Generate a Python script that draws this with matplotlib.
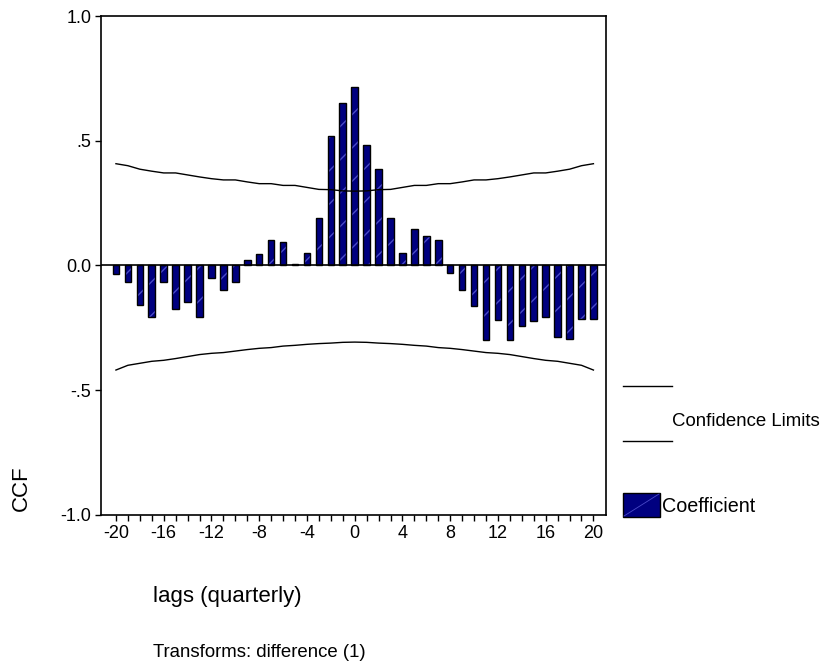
import numpy as np
import matplotlib.pyplot as plt
from matplotlib.lines import Line2D
from matplotlib.patches import Rectangle

plt.rcParams['font.family'] = ['Liberation Sans', 'DejaVu Sans']
plt.rcParams['axes.unicode_minus'] = False

# cross-correlation coefficients, lags -20..20
lags = np.arange(-20, 21)
ccf = [-0.036, -0.068, -0.160, -0.205, -0.067, -0.176, -0.147, -0.205, -0.050, -0.097,
       -0.067, 0.022, 0.047, 0.102, 0.095, 0.007, 0.051, 0.190, 0.519, 0.650,
       0.717, 0.481, 0.387, 0.190, 0.051, 0.146, 0.117, 0.102, -0.032, -0.097,
       -0.164, -0.300, -0.220, -0.300, -0.244, -0.222, -0.207, -0.288, -0.293, -0.213,
       -0.213]

# confidence limits (lags -20..0, mirrored for positive lags)
upper_half = [0.408, 0.400, 0.386, 0.378, 0.371, 0.371, 0.363, 0.355, 0.348, 0.343,
              0.343, 0.335, 0.328, 0.328, 0.321, 0.321, 0.313, 0.305, 0.304, 0.299, 0.298]
lower_half = [-0.419, -0.400, -0.392, -0.384, -0.380, -0.373, -0.365, -0.357, -0.352, -0.349,
              -0.343, -0.337, -0.332, -0.329, -0.323, -0.320, -0.316, -0.313, -0.311, -0.308, -0.307]
upper = upper_half + upper_half[-2::-1]
lower = lower_half + lower_half[-2::-1]

yticks = [-1.0, -0.5, 0.0, 0.5, 1.0]
ytick_labels = ['-1.0', '-.5', '0.0', '.5', '1.0']
xtick_major = np.arange(-20, 21, 4)

navy = '#000080'
stripe = '#4a4ac8'

fig = plt.figure(figsize=(8.24, 6.67), dpi=100)
ax = fig.add_axes([0.1226, 0.2279, 0.6128, 0.7481])

ax.bar(lags, ccf, width=0.55, color=navy, edgecolor=stripe, hatch='/', linewidth=0, zorder=2)
ax.bar(lags, ccf, width=0.55, fill=False, edgecolor='black', linewidth=1.0, zorder=3)
ax.plot(lags, upper, color='black', linewidth=1.0, zorder=4)
ax.plot(lags, lower, color='black', linewidth=1.0, zorder=4)
ax.axhline(0, color='black', linewidth=1.2, zorder=5)

ax.set_xlim(-21.25, 21.05)
ax.set_ylim(-1.0, 1.0)
ax.set_yticks(yticks)
ax.set_yticklabels(ytick_labels)
ax.set_xticks(xtick_major)
ax.set_xticks(lags, minor=True)
ax.tick_params(axis='both', direction='out', length=4, width=1, labelsize=13, pad=3)
ax.tick_params(axis='x', which='minor', direction='out', length=4, width=1)
for s in ax.spines.values():
    s.set_linewidth(1.2)

fig.text(0.026, 0.268, 'CCF', rotation=90, fontsize=16, ha='center', va='center')
fig.text(0.186, 0.106, 'lags (quarterly)', fontsize=16, ha='left', va='center')
fig.text(0.186, 0.022, 'Transforms: difference (1)', fontsize=13.4, ha='left', va='center')

# legend drawn in figure pixels
def fx(px):
    return px / 824

def fy(py):
    return 1 - py / 667

fig.add_artist(Line2D([fx(623), fx(672)], [fy(386), fy(386)], color='black', linewidth=1.0))
fig.add_artist(Line2D([fx(623), fx(672)], [fy(441), fy(441)], color='black', linewidth=1.0))
fig.text(fx(672), fy(422), 'Confidence Limits', fontsize=13.4, ha='left', va='center')
fig.add_artist(Rectangle((fx(623), fy(517)), fx(660) - fx(623), fy(493) - fy(517),
                         facecolor=navy, edgecolor='black', linewidth=1.0))
fig.add_artist(Line2D([fx(624), fx(659)], [fy(516), fy(494)], color=stripe, linewidth=0.6))
fig.text(fx(662), fy(507), 'Coefficient', fontsize=14.2, ha='left', va='center')

fig.savefig('out.png', dpi=100)
